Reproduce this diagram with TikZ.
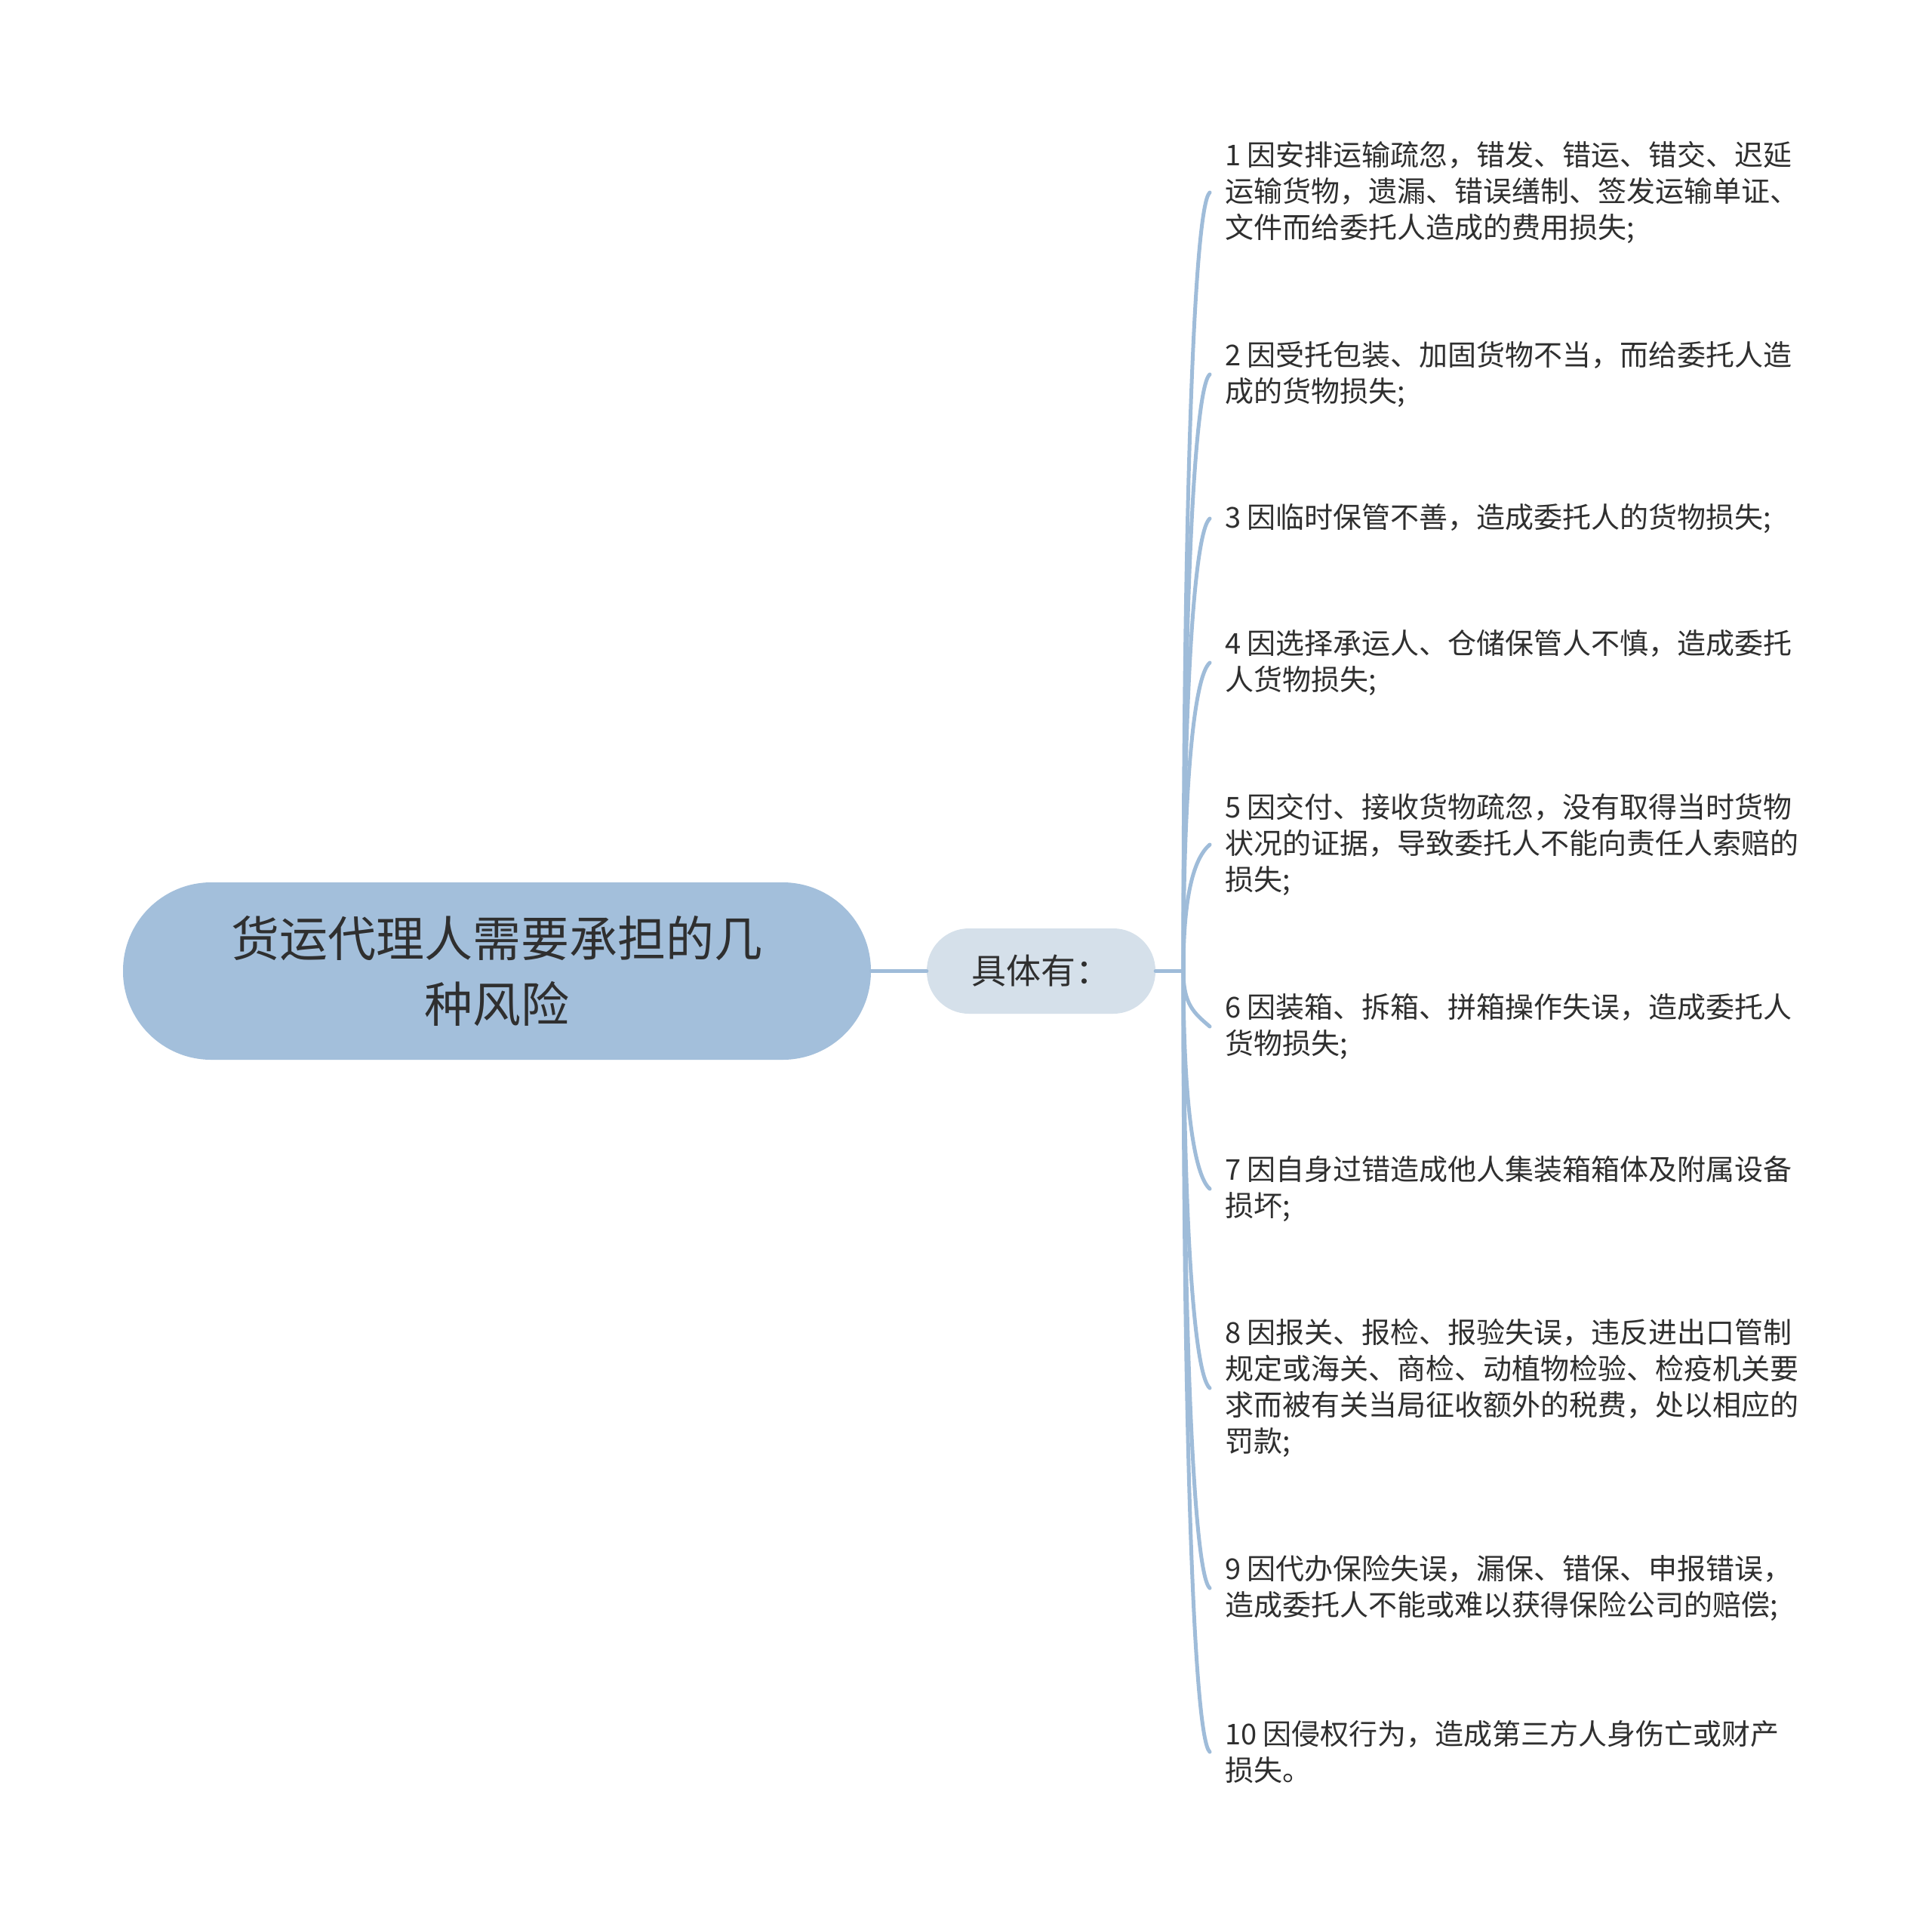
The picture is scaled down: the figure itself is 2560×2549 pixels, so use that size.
\documentclass[tikz,border=0pt]{standalone}
\usepackage{fontspec}
\newfontfamily\cjk{Noto Sans CJK SC}
\usetikzlibrary{calc}
\definecolor{rootfill}{HTML}{A3BFDB}
\definecolor{midfill}{HTML}{D5E0EA}
\definecolor{linec}{HTML}{9FBCD9}
\definecolor{txt}{HTML}{2F2F2F}
\tikzset{
  rootbox/.style={rectangle, rounded corners=117pt, fill=rootfill, minimum width=991pt, minimum height=235pt, align=center, text=txt, font=\cjk\fontsize{64}{87}\selectfont, inner sep=0pt},
  midbox/.style={rectangle, rounded corners=56pt, fill=midfill, minimum width=303pt, minimum height=113pt, align=center, text=txt, font=\cjk\fontsize{46}{56}\selectfont, inner sep=0pt},
  itembox/.style={anchor=west, align=left, text=txt, font=\cjk\fontsize{38}{48}\selectfont, inner xsep=20pt, inner ysep=0pt},
  conn/.style={draw=linec, line width=5pt, line cap=round}
}
\begin{document}
\begin{tikzpicture}[x=1pt, y=-1pt]
\useasboundingbox[fill=white] (0,0) rectangle (2560,2549);
\node[rootbox] (root) at (658.5,1286.5) {货运代理人需要承担的几\\种风险};
\node[midbox] (mid) at (1379.5,1286.5) {具体有：};
\coordinate (J) at (1568,1286.5);
\node[itembox] (n1) at (1603,255) {1 因安排运输疏忽，错发、错运、错交、迟延\\运输货物，遗漏、错误缮制、签发运输单证、\\文件而给委托人造成的费用损失;};
\node[itembox] (n2) at (1603,496) {2 因受托包装、加固货物不当，而给委托人造\\成的货物损失;};
\node[itembox] (n3) at (1603,687) {3 因临时保管不善，造成委托人的货物损失;};
\node[itembox] (n4) at (1603,878) {4 因选择承运人、仓储保管人不慎，造成委托\\人货物损失;};
\node[itembox] (n5) at (1603,1119) {5 因交付、接收货物疏忽，没有取得当时货物\\状况的证据，导致委托人不能向责任人索赔的\\损失;};
\node[itembox] (n6) at (1603,1360) {6 因装箱、拆箱、拼箱操作失误，造成委托人\\货物损失;};
\node[itembox] (n7) at (1603,1575) {7 因自身过错造成他人集装箱箱体及附属设备\\损坏;};
\node[itembox] (n8) at (1603,1839) {8 因报关、报检、报验失误，违反进出口管制\\规定或海关、商检、动植物检验、检疫机关要\\求而被有关当局征收额外的税费，处以相应的\\罚款;};
\node[itembox] (n9) at (1603,2104) {9 因代办保险失误，漏保、错保、申报错误，\\造成委托人不能或难以获得保险公司的赔偿;};
\node[itembox] (n10) at (1603,2321) {10 因侵权行为，造成第三方人身伤亡或财产\\损失。};
\draw[conn] (root.east) -- (mid.west);
\draw[conn] (mid.east) -- (J);
\draw[conn] (J) .. controls ($(J)!0.6!(J|-n1.west)$) and ($(n1.west)+(-21,18)$) .. (n1.west);
\draw[conn] (J) .. controls ($(J)!0.6!(J|-n2.west)$) and ($(n2.west)+(-21,18)$) .. (n2.west);
\draw[conn] (J) .. controls ($(J)!0.6!(J|-n3.west)$) and ($(n3.west)+(-21,18)$) .. (n3.west);
\draw[conn] (J) .. controls ($(J)!0.6!(J|-n4.west)$) and ($(n4.west)+(-21,18)$) .. (n4.west);
\draw[conn] (J) .. controls ($(J)!0.6!(J|-n5.west)$) and ($(n5.west)+(-21,18)$) .. (n5.west);
\draw[conn] (J) .. controls ($(J)!0.6!(J|-n6.west)$) and ($(n6.west)+(-21,-18)$) .. (n6.west);
\draw[conn] (J) .. controls ($(J)!0.6!(J|-n7.west)$) and ($(n7.west)+(-21,-18)$) .. (n7.west);
\draw[conn] (J) .. controls ($(J)!0.6!(J|-n8.west)$) and ($(n8.west)+(-21,-18)$) .. (n8.west);
\draw[conn] (J) .. controls ($(J)!0.6!(J|-n9.west)$) and ($(n9.west)+(-21,-18)$) .. (n9.west);
\draw[conn] (J) .. controls ($(J)!0.6!(J|-n10.west)$) and ($(n10.west)+(-21,-18)$) .. (n10.west);
\end{tikzpicture}
\end{document}
